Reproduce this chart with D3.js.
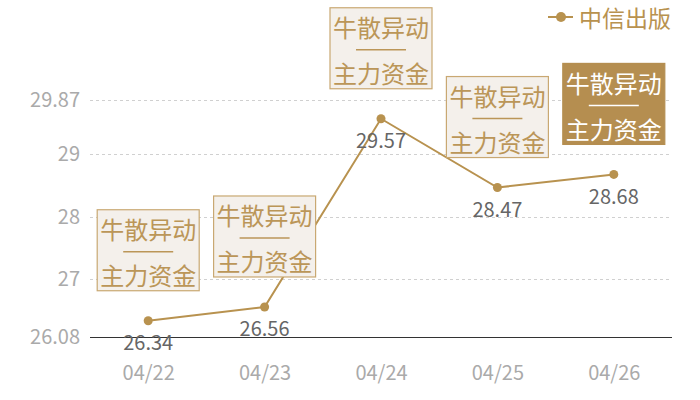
<!DOCTYPE html>
<html><head><meta charset="utf-8">
<script src="https://cdn.jsdelivr.net/npm/d3@7"></script>
<style>body{margin:0;background:#fff}svg{display:block}</style>
</head><body>
<svg id="c" width="700" height="400"></svg>
<script>
const categories = ["04/22","04/23","04/24","04/25","04/26"];
const values = [26.34, 26.56, 29.57, 28.47, 28.68];
const yTicks = [26.08, 27, 28, 29, 29.87];
const seriesName = "中信出版";
const noteTop = ["牛散异动","牛散异动","牛散异动","牛散异动","牛散异动"];
const noteBottom = ["主力资金","主力资金","主力资金","主力资金","主力资金"];
const noteHighlight = [false,false,false,false,true];

const gold = "#b8924f";
const font = "'Noto Sans CJK SC','Noto Sans',sans-serif";
const svg = d3.select("#c");
const x = d3.scalePoint().domain(categories).range([90,672]).padding(0.5);
const y = d3.scaleLinear().domain([26.08,29.87]).range([337,100]);

// grid
svg.append("g").selectAll("line").data(yTicks.slice(1)).join("line")
  .attr("x1",90).attr("x2",672).attr("y1",d=>Math.round(y(d))+0.5).attr("y2",d=>Math.round(y(d))+0.5)
  .attr("stroke","#d0d0d0").attr("stroke-dasharray","3,3");
// axis line
svg.append("line").attr("x1",90).attr("x2",672).attr("y1",Math.round(y(26.08))+0.5).attr("y2",Math.round(y(26.08))+0.5)
  .attr("stroke","#333").attr("stroke-width",1);

// y labels
const ya = d3.axisLeft(y).tickValues(yTicks).tickSize(0).tickPadding(0).tickFormat(d=>String(d));
const yg = svg.append("g").attr("transform","translate(80,0)").call(ya);
yg.select(".domain").remove();
yg.selectAll("text").attr("font-family",font).attr("font-size",20).attr("fill","#aaa");

// x labels
const xa = d3.axisBottom(x).tickSize(0).tickPadding(0);
const xg = svg.append("g").attr("transform","translate(0,371)").call(xa);
xg.select(".domain").remove();
xg.selectAll("text").attr("y",0).attr("dy",null).attr("dominant-baseline","central")
  .attr("font-family",font).attr("font-size",20).attr("fill","#aaa");

// line
const line = d3.line().x((d,i)=>x(categories[i])).y(d=>y(d));
svg.append("path").datum(values).attr("d",line).attr("fill","none").attr("stroke",gold).attr("stroke-width",2);
svg.append("g").selectAll("circle").data(values).join("circle")
  .attr("cx",(d,i)=>x(categories[i])).attr("cy",d=>y(d)).attr("r",4.5).attr("fill",gold);

// value labels
svg.append("g").selectAll("text").data(values).join("text")
  .attr("x",(d,i)=>x(categories[i])).attr("y",d=>y(d)+21)
  .attr("text-anchor","middle").attr("dominant-baseline","central")
  .attr("font-family",font).attr("font-size",20).attr("fill","#666").text(d=>d.toFixed(2));

// annotation boxes
const bw=102, bh=81;
const notes = svg.append("g").selectAll("g").data(values).join("g")
  .attr("transform",(d,i)=>`translate(${x(categories[i])-bw/2},${y(d)-30-bh})`);
notes.append("rect").attr("width",bw).attr("height",bh)
  .attr("fill",(d,i)=>noteHighlight[i]?"#b58e50":"#f4f0eb")
  .attr("stroke",(d,i)=>noteHighlight[i]?"#b58e50":"#c9a872").attr("stroke-width",1.2);
const tcol=(d,i)=>noteHighlight[i]?"#fff":"#bb9658";
notes.append("text").attr("x",bw/2).attr("y",19).attr("text-anchor","middle").attr("dominant-baseline","central")
  .attr("font-family",font).attr("font-size",24).attr("fill",tcol).text((d,i)=>noteTop[i]);
notes.append("line").attr("x1",bw/2-25).attr("x2",bw/2+25).attr("y1",42).attr("y2",42)
  .attr("stroke",tcol).attr("stroke-width",1.5);
notes.append("text").attr("x",bw/2).attr("y",65).attr("text-anchor","middle").attr("dominant-baseline","central")
  .attr("font-family",font).attr("font-size",24).attr("fill",tcol).text((d,i)=>noteBottom[i]);

// legend
const lg = svg.append("g");
lg.append("line").attr("x1",548).attr("x2",573).attr("y1",17).attr("y2",17).attr("stroke",gold).attr("stroke-width",2);
lg.append("circle").attr("cx",561).attr("cy",17).attr("r",5).attr("fill",gold);
lg.append("text").attr("x",579).attr("y",17).attr("dominant-baseline","central")
  .attr("font-family",font).attr("font-size",23).attr("fill",gold).text(seriesName);
</script>
</body></html>
